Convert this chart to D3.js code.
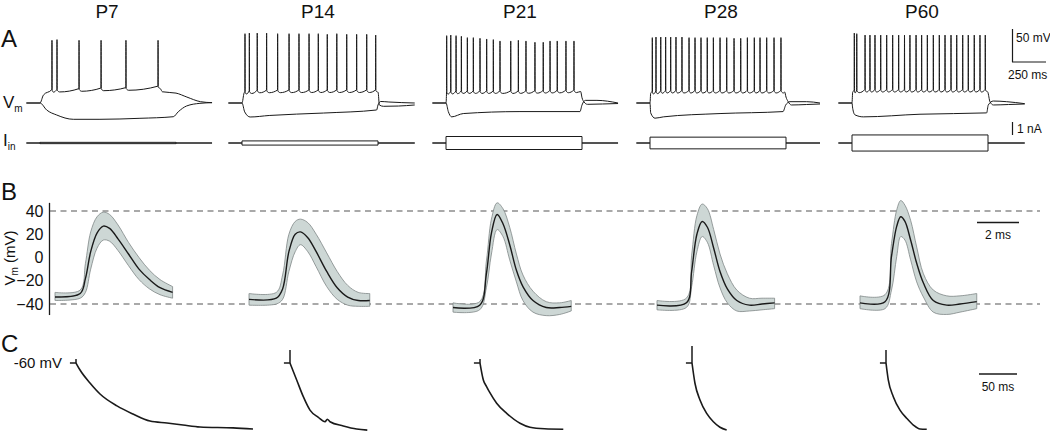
<!DOCTYPE html>
<html>
<head>
<meta charset="utf-8">
<script src="https://cdn.jsdelivr.net/npm/d3@7"></script>
<style>
  body { margin: 0; background: #fff; }
  svg { display: block; }
  text { font-family: "Liberation Sans", Arial, sans-serif; fill: #111; }
</style>
</head>
<body>
<svg id="fig" width="1050" height="432"></svg>
<script>
// ---- data ----
const ages = ["P7", "P14", "P21", "P28", "P60"];

// Panel A: spike times (ms after current step onset) and spike peaks (mV)
const spikeTimes = [
  [88, 125, 287, 449, 632, 868],
  [22, 54, 112, 181, 262, 346, 419, 493, 561, 627, 697, 770, 843, 917, 983],
  [5, 35, 74, 113, 157, 201, 250, 299, 348, 397, 476, 532, 588, 654, 715, 765, 818, 882, 941],
  [17, 44, 79, 115, 152, 191, 235, 287, 331, 375, 421, 466, 515, 564, 618, 667, 716, 767, 809, 858, 912, 963],
  [17, 35, 96, 132, 169, 211, 255, 299, 343, 386, 426, 471, 512, 554, 598, 642, 684, 728, 770, 814, 855, 899, 941, 980]
];
const spikePeaks = [
  [30, 31, 30, 30, 30, 30],
  [40, 41, 41, 41, 40, 40, 40, 40, 40, 39, 40, 39, 39, 39, 38],
  [37, 38, 37, 36, 34, 34, 33, 32, 31, 29, 29, 30, 29, 27, 27, 29, 29, 29, 29],
  [34, 35, 35, 35, 35, 35, 35, 34, 34, 34, 34, 34, 34, 34, 33, 33, 34, 34, 34, 34, 34, 34],
  [41, 40, 38, 38, 38, 38, 38, 38, 38, 38, 38, 38, 38, 38, 38, 38, 38, 38, 38, 38, 38, 38, 38, 38]
];
// interspike trough level of the depolarising sweep [ms, mV]
const depolBase = [
  [[0, -65], [25, -53], [88, -47], [400, -45], [700, -44], [868, -42], [900, -48], [1000, -50], [1080, -56], [1180, -63], [1265, -64.5]],
  [[0, -65], [15, -50], [100, -48], [500, -47.6], [990, -47.6], [1000, -57], [1010, -68], [1040, -70], [1150, -69.6], [1270, -68]],
  [[0, -65], [5, -50], [100, -49], [500, -49], [990, -47.6], [1000, -57], [1015, -63.5], [1040, -67], [1150, -66.5], [1265, -65.8]],
  [[0, -65], [5, -50], [100, -48.3], [990, -48.3], [1000, -56], [1015, -62.7], [1040, -68], [1150, -67.3], [1250, -66.5]],
  [[0, -65], [5, -48.3], [100, -46.8], [990, -46.8], [1000, -56], [1015, -63.5], [1040, -68], [1150, -67.3], [1270, -66.5]]
];
// hyperpolarising sweep [ms, mV]
const hyperTrace = [
  [[0, -65], [49, -75.6], [123, -83.2], [245, -89.7], [441, -89.7], [735, -88.2], [980, -85.8], [1017, -78.2], [1078, -69.5], [1176, -65.5], [1265, -64.5]],
  [[0, -65], [20, -78.6], [60, -86.2], [200, -83.9], [600, -80.2], [990, -75.6], [1000, -68], [1020, -62.7], [1080, -63.5], [1270, -65]],
  [[0, -65], [17, -78], [42, -86], [127, -81], [544, -78], [985, -78], [1000, -68], [1025, -61], [1110, -61], [1265, -65]],
  [[0, -65], [5, -80], [37, -88], [98, -86], [515, -81], [978, -78], [998, -68], [1029, -63], [1152, -63], [1250, -65]],
  [[0, -65], [5, -73], [22, -83], [83, -86], [500, -82], [990, -80], [1002, -68], [1039, -62], [1137, -63], [1270, -66]]
];
// injected current step amplitude (nA)
const stepCurrent = [0.05, 0.16, 0.5, 0.45, 0.62];

// Panel B: averaged action potential, mean and +/- band (mV) vs time (ms)
const apTime = [
  [0, 1.2, 1.45, 1.7, 2.0, 2.3, 2.6, 3.0, 3.5, 4.0, 4.5, 5.0, 5.6],
  [0, 1.3, 1.6, 1.9, 2.2, 2.45, 2.8, 3.2, 3.7, 4.2, 4.7, 5.2, 5.75],
  [0, 1.27, 1.59, 1.83, 2.1, 2.38, 2.7, 3.02, 3.33, 3.81, 4.44, 5.08, 5.63],
  [0, 1.4, 1.65, 1.9, 2.15, 2.4, 2.7, 3.0, 3.35, 3.8, 4.4, 5.0, 5.6],
  [0, 1.19, 1.5, 1.75, 1.94, 2.14, 2.41, 2.7, 3.02, 3.49, 4.13, 4.76, 5.56]
];
const apMean = [
  [-34, -31, -18, 5, 21, 27, 25, 16, 3, -10, -19, -26, -30],
  [-36, -35, -27, 5, 20, 22, 17, 5, -12, -26, -34, -37, -37],
  [-43, -41, -14, 21, 37, 29, 11, -11, -25, -37, -43, -43, -42],
  [-41, -39, -12, 20, 31, 26, 8, -12, -27, -37, -41, -40, -39],
  [-39, -38, 1, 27, 35, 31, 15, -5, -22, -37, -41, -40, -38]
];
const apUpper = [
  [-30, -28, -5, 22, 35, 39, 37, 28, 13, 0, -11, -19, -25],
  [-31, -30, -15, 20, 31, 33, 30, 20, 4, -12, -24, -30, -31],
  [-39, -38, -3, 33, 47, 42, 26, 3, -15, -29, -38, -39, -37],
  [-37, -35, 2, 36, 46, 42, 24, 3, -14, -28, -35, -35, -35],
  [-33, -32, 12, 41, 49, 45, 32, 9, -14, -28, -33, -33, -31]
];
const apLower = [
  [-37, -35, -30, -10, 8, 15, 14, 6, -7, -19, -27, -32, -35],
  [-41, -40, -36, -12, 5, 11, 5, -8, -25, -36, -41, -42, -42],
  [-47, -45, -26, 3, 24, 18, -2, -21, -37, -47, -50, -49, -46],
  [-45, -43, -25, 5, 18, 13, -7, -26, -39, -46, -46, -45, -44],
  [-44, -44, -28, 1, 18, 15, -2, -21, -34, -47, -49, -47, -44]
];
const yTicksB = [40, 20, 0, -20, -40];

// Panel C: response from -60 mV (ms, mV) and the capacitive artefact peak (mV)
const sagTime = [
  [0, 5.3, 18.4, 31.6, 53.9, 75, 97.4, 119.7, 140.8, 163.2, 206.6, 232.9],
  [0, 8.8, 17.5, 26.3, 37.3, 46.1, 49.1, 52.6, 70.1, 87.7, 101.7],
  [0, 4.4, 8.8, 13.2, 21.9, 35.1, 52.6, 65.8, 85, 109.6],
  [0, 3.9, 10.5, 19.3, 28.1, 36.8, 45.6],
  [0, 3, 9.6, 18.4, 27.2, 36, 44.7, 53.6]
];
const sagVm = [
  [-60, -63.2, -69.1, -74.1, -79.5, -83.2, -86.4, -87.3, -88.2, -89.1, -89.5, -90],
  [-60, -67.7, -75.3, -81.4, -84.7, -86.7, -85.6, -86.7, -88.6, -90, -90.5],
  [-60, -67.7, -70.8, -73.6, -78.3, -82.9, -87.4, -89.2, -89.9, -90.1],
  [-60, -69.2, -76.8, -82.9, -86.7, -89.2, -90.5],
  [-60, -67.7, -75.3, -81.4, -85.1, -88.2, -90, -90.1]
];
const artifactPeak = [-58.2, -54.1, -58.2, -52.3, -54.1];

// ---- layout ----
const titleX = [107, 318, 520, 721, 922];
const stepX = [40, 242, 446, 650, 852];
const apX = [55, 249, 453, 657, 860];
const sagX = [76, 290, 480, 692, 886];
const ink = "#1a1a1a";

const svg = d3.select("#fig");

ages.forEach((a, i) => {
  svg.append("text").attr("x", titleX[i]).attr("y", 18)
    .attr("text-anchor", "middle").attr("font-size", 19).text(a);
});

[["A", 47], ["B", 200], ["C", 352]].forEach(([l, y]) => {
  svg.append("text").attr("x", 1).attr("y", y).attr("font-size", 24).text(l);
});

// ================= Panel A =================
const xA = d3.scaleLinear().domain([0, 1000]).range([0, 136]);
const yA = d3.scaleLinear().domain([-65, 35]).range([103, 37]);
const yI = d3.scaleLinear().domain([0, 1]).range([143, 130]);
const lineA = d3.line().x(d => xA(d[0])).y(d => yA(d[1])).curve(d3.curveMonotoneX);
const lineI = d3.line().x(d => xA(d[0])).y(d => yI(d[1]));

function baseAt(base, t) {
  for (let k = 1; k < base.length; k++) {
    if (t <= base[k][0]) {
      const a = base[k - 1], b = base[k];
      return a[1] + (b[1] - a[1]) * (t - a[0]) / (b[0] - a[0]);
    }
  }
  return base[base.length - 1][1];
}

// depolarising sweep: trough line with the spikes put in
function depolTrace(i) {
  const base = depolBase[i], sp = spikeTimes[i], pk = spikePeaks[i];
  const first = sp[0], last = sp[sp.length - 1];
  const pts = [[-100, -65]];
  base.forEach(p => { if (p[0] < first - 1) pts.push(p); });
  sp.forEach((ts, k) => {
    const vb = baseAt(base, ts);
    const isi = k < sp.length - 1 ? sp[k + 1] - ts : 60;
    pts.push([ts - 1, vb + 2.5], [ts, pk[k]], [ts + 1.5, vb + 1], [ts + Math.min(isi * 0.3, 20), vb - 1.5]);
  });
  base.forEach(p => { if (p[0] > last + 25) pts.push(p); });
  return pts;
}

ages.forEach((a, i) => {
  const g = svg.append("g").attr("transform", `translate(${stepX[i]},0)`);
  g.append("path").attr("d", lineA([[-100, -65]].concat(hyperTrace[i])))
    .attr("fill", "none").attr("stroke", ink).attr("stroke-width", 1);
  g.append("path").attr("d", lineA(depolTrace(i)))
    .attr("fill", "none").attr("stroke", ink).attr("stroke-width", 1);
  const tEnd = depolBase[i][depolBase[i].length - 1][0];
  [stepCurrent[i], -stepCurrent[i]].forEach(s => {
    g.append("path").attr("d", lineI([[-100, 0], [0, 0], [0, s], [1000, s], [1000, 0], [tEnd, 0]]))
      .attr("fill", "none").attr("stroke", ink).attr("stroke-width", 1);
  });
});

// Vm / Iin labels
const vm = svg.append("text").attr("x", 3).attr("y", 108).attr("font-size", 17);
vm.append("tspan").text("V");
vm.append("tspan").attr("font-size", 10).attr("dy", 4).text("m");
const iin = svg.append("text").attr("x", 3).attr("y", 146).attr("font-size", 17);
iin.append("tspan").text("I");
iin.append("tspan").attr("font-size", 10).attr("dy", 4).text("in");

// scale bars A
const sbA = svg.append("g").attr("stroke", ink).attr("stroke-width", 1.2);
sbA.append("line").attr("x1", 1012.5).attr("x2", 1012.5).attr("y1", yA(-65) - 74).attr("y2", yA(-65) - 74 + (yA(-65) - yA(-15)));
sbA.append("line").attr("x1", 1012).attr("x2", 1012 + xA(250)).attr("y1", 62).attr("y2", 62);
sbA.append("line").attr("x1", 1012.5).attr("x2", 1012.5).attr("y1", yI(1) - 8).attr("y2", yI(0) - 8);
svg.append("text").attr("x", 1016).attr("y", 42).attr("font-size", 12).text("50 mV");
svg.append("text").attr("x", 1008).attr("y", 79).attr("font-size", 12).text("250 ms");
svg.append("text").attr("x", 1017).attr("y", 133).attr("font-size", 12).text("1 nA");

// ================= Panel B =================
const xB = d3.scaleLinear().domain([0, 2]).range([0, 42]);
const yB = d3.scaleLinear().domain([-40, 40]).range([304, 211]);

const axB = svg.append("g").attr("transform", "translate(49.5,0)")
  .call(d3.axisLeft(yB).tickValues(yTicksB).tickSize(0).tickPadding(6));
axB.select(".domain").remove();
axB.selectAll("text").attr("font-size", 16).attr("font-family", "Liberation Sans, Arial, sans-serif").attr("fill", "#111");
svg.append("line").attr("x1", 49.5).attr("x2", 49.5)
  .attr("y1", yB(47)).attr("y2", yB(-49.5)).attr("stroke", ink).attr("stroke-width", 1.3);

const ylab = svg.append("text").attr("transform", "translate(15,258) rotate(-90)")
  .attr("text-anchor", "middle").attr("font-size", 15);
ylab.append("tspan").text("V");
ylab.append("tspan").attr("font-size", 10).attr("dy", 3).text("m");
ylab.append("tspan").attr("dy", -3).text(" (mV)");

[40, -40].forEach(v => {
  svg.append("line").attr("x1", 50).attr("x2", 1040).attr("y1", yB(v)).attr("y2", yB(v))
    .attr("stroke", "#555").attr("stroke-width", 1.2).attr("stroke-dasharray", "6,4.5");
});

const areaB = d3.area().curve(d3.curveCatmullRom);
const lineB = d3.line().curve(d3.curveCatmullRom);

ages.forEach((a, i) => {
  const g = svg.append("g").attr("transform", `translate(${apX[i]},0)`);
  const t = apTime[i];
  areaB.x((d, k) => xB(t[k])).y0((d, k) => yB(apLower[i][k])).y1((d, k) => yB(apUpper[i][k]));
  g.append("path").attr("d", areaB(t)).attr("fill", "#cdd7d5")
    .attr("stroke", "#7f8786").attr("stroke-width", 0.8);
  lineB.x((d, k) => xB(t[k])).y((d, k) => yB(apMean[i][k]));
  g.append("path").attr("d", lineB(t)).attr("fill", "none").attr("stroke", ink).attr("stroke-width", 1.4);
});

svg.append("line").attr("x1", 977).attr("x2", 977 + xB(2)).attr("y1", 222.5).attr("y2", 222.5)
  .attr("stroke", ink).attr("stroke-width", 1.4);
svg.append("text").attr("x", 998).attr("y", 239).attr("text-anchor", "middle").attr("font-size", 12).text("2 ms");

// ================= Panel C =================
const xC = d3.scaleLinear().domain([0, 50]).range([0, 38]);
const yC = d3.scaleLinear().domain([-60, -90]).range([363, 429]);
const lineC = d3.line().x(d => xC(d[0])).y(d => yC(d[1])).curve(d3.curveMonotoneX);

ages.forEach((a, i) => {
  const g = svg.append("g").attr("transform", `translate(${sagX[i]},0)`);
  g.append("line").attr("x1", xC(-8)).attr("x2", 0).attr("y1", yC(-60)).attr("y2", yC(-60))
    .attr("stroke", ink).attr("stroke-width", 1.5);
  g.append("line").attr("x1", 0).attr("x2", 0).attr("y1", yC(-60)).attr("y2", yC(artifactPeak[i]))
    .attr("stroke", ink).attr("stroke-width", 1.5);
  g.append("path").attr("d", lineC(sagTime[i].map((t, k) => [t, sagVm[i][k]])))
    .attr("fill", "none").attr("stroke", ink).attr("stroke-width", 1.6);
});

svg.append("text").attr("x", 62).attr("y", 368).attr("text-anchor", "end").attr("font-size", 15).text("-60 mV");
svg.append("line").attr("x1", 979).attr("x2", 979 + xC(50)).attr("y1", 374).attr("y2", 374)
  .attr("stroke", ink).attr("stroke-width", 1.4);
svg.append("text").attr("x", 998).attr("y", 391).attr("text-anchor", "middle").attr("font-size", 12).text("50 ms");
</script>
</body>
</html>
